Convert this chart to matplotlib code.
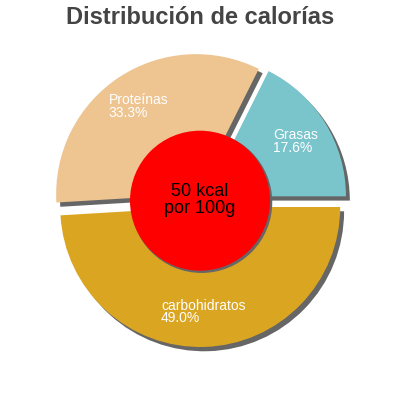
import matplotlib
matplotlib.use('Agg')
import matplotlib.pyplot as plt
import matplotlib.patches as mpatches

plt.rcParams['font.family'] = ['Liberation Sans', 'DejaVu Sans']

names = ['Grasas', 'Proteínas', 'carbohidratos']
percents = [17.6, 33.3, 49.0]
colors = ['#7ac4cc', '#eec491', '#daa520']
kcal = 50
title = 'Distribución de calorías'

labels = [f'{n}\n{p:.1f}%' for n, p in zip(names, percents)]

fig = plt.figure(figsize=(4, 4), dpi=100)
ax = fig.add_axes([0, 0, 1, 1])

ax.pie(percents, labels=labels, colors=colors, startangle=0, counterclock=True,
       explode=[0.05] * 3, labeldistance=0.75, radius=1,
       shadow=dict(ox=0.02, oy=-0.022, facecolor='#666666', edgecolor='#666666', alpha=1),
       wedgeprops=dict(linewidth=0),
       textprops=dict(color='white', fontsize=10, ha='center', va='center',
                      multialignment='left', linespacing=0.9))

# pie resets the limits, so set them afterwards (radius 1 -> 140 px)
lim = 200 / 140
ax.set_xlim(-lim, lim)
ax.set_ylim(-lim, lim)
ax.set_aspect('equal')
ax.axis('off')

circle = mpatches.Circle((0, -0.005), 0.5, facecolor='red', edgecolor='none', zorder=5)
ax.add_patch(circle)
ax.add_patch(mpatches.Shadow(circle, 0.008, -0.008, facecolor='#666666',
                             edgecolor='#666666', alpha=1))
ax.text(0, 0, f'{kcal} kcal\npor 100g', ha='center', va='center', fontsize=13,
        color='black', linespacing=0.95, zorder=6)

fig.text(0.5, 0.94, title, ha='center', va='baseline', fontsize=17,
         fontweight='bold', color='#444444')

fig.savefig('out.png', dpi=100)
